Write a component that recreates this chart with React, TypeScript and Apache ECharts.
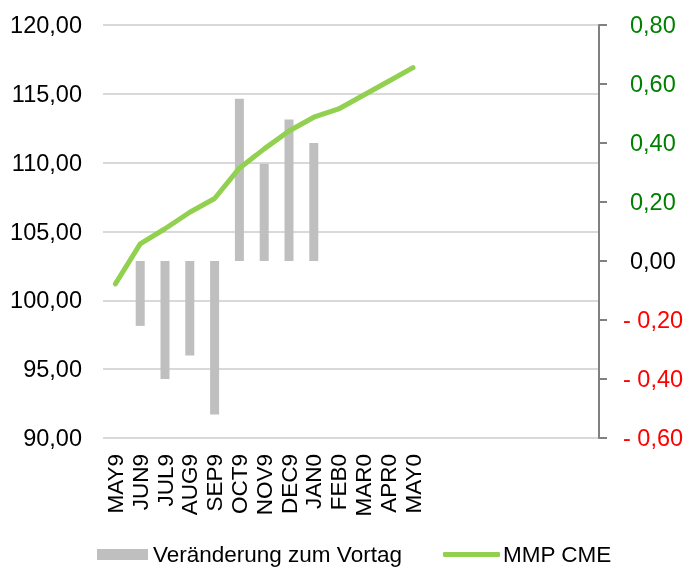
import React, { useEffect, useRef } from "react";
import * as echarts from "echarts";

const categories = ["MAY9", "JUN9", "JUL9", "AUG9", "SEP9", "OCT9", "NOV9", "DEC9", "JAN0", "FEB0", "MAR0", "APR0", "MAY0", "", "", "", "", "", "", ""];
const changeValues: (number | null)[] = [null, -0.22, -0.40, -0.32, -0.52, 0.55, 0.33, 0.48, 0.40, null, null, null, null, null, null, null, null, null, null, null];
const mmpValues: (number | null)[] = [101.2, 104.1, 105.2, 106.4, 107.4, 109.6, 111.0, 112.3, 113.3, 113.9, 114.9, 115.9, 116.9, null, null, null, null, null, null, null];
const barName = "Veränderung zum Vortag";
const lineName = "MMP CME";

const fmtLeft = (v: number) => v.toFixed(2).replace(".", ",");
const fmtRight = (v: number) => {
  const r = Math.round(v * 100) / 100;
  if (r < 0) return "{n|- " + Math.abs(r).toFixed(2).replace(".", ",") + "}";
  if (r === 0) return "{z|0,00}";
  return "{p|" + r.toFixed(2).replace(".", ",") + "}";
};

export default function App() {
  const ref = useRef<HTMLDivElement>(null);
  useEffect(() => {
    if (!ref.current) return;
    const chart = echarts.init(ref.current, undefined, { renderer: "svg" });
    const font = "Liberation Sans, Arial, sans-serif";
    const fs = 23.5;
    chart.setOption({
      animation: false,
      textStyle: { fontFamily: font },
      grid: { left: 103, right: 92, top: 25, bottom: 130 },
      legend: [
        {
          data: [{ name: barName, icon: "rect" }],
          left: 97,
          top: 543,
          padding: 0,
          itemWidth: 51,
          itemHeight: 11,
          itemGap: 5,
          textStyle: { fontSize: 22.5, color: "#000", fontFamily: font },
        },
        {
          data: [{ name: lineName, icon: "roundRect" }],
          left: 443,
          top: 543,
          padding: 0,
          itemWidth: 57,
          itemHeight: 5,
          textStyle: { fontSize: 22.5, color: "#000", fontFamily: font, padding: [0, 0, 0, -2] },
        },
      ],
      xAxis: {
        type: "category",
        data: categories,
        boundaryGap: true,
        axisLine: { show: false },
        axisTick: { show: false },
        axisLabel: { rotate: 90, interval: 0, fontSize: 22.5, color: "#000", margin: 16, fontFamily: font },
      },
      yAxis: [
        {
          type: "value",
          min: 90,
          max: 120,
          interval: 5,
          position: "left",
          axisLine: { show: false },
          axisTick: { show: false },
          axisLabel: { formatter: fmtLeft, fontSize: fs, color: "#000", margin: 21, fontFamily: font },
          splitLine: { show: true, lineStyle: { color: "#D9D9D9", width: 2 } },
        },
        {
          type: "value",
          min: -0.6,
          max: 0.8,
          interval: 0.2,
          position: "right",
          axisLine: { show: true, lineStyle: { color: "#808080", width: 2 } },
          axisTick: { show: true, length: 8, lineStyle: { color: "#808080", width: 2 } },
          splitLine: { show: false },
          axisLabel: {
            formatter: fmtRight,
            align: "left",
            margin: 24,
            fontFamily: font,
            rich: {
              p: { fontSize: fs, color: "#008000", padding: [0, 0, 0, 7], fontFamily: font },
              z: { fontSize: fs, color: "#000000", padding: [0, 0, 0, 7], fontFamily: font },
              n: { fontSize: fs, color: "#FF0000", fontFamily: font },
            },
          },
        },
      ],
      series: [
        {
          name: barName,
          type: "bar",
          yAxisIndex: 1,
          data: changeValues,
          barWidth: 9,
          itemStyle: { color: "#BFBFBF" },
        },
        {
          name: lineName,
          type: "line",
          yAxisIndex: 0,
          data: mmpValues,
          symbol: "none",
          itemStyle: { color: "#92D050" },
          lineStyle: { color: "#92D050", width: 5, cap: "round", join: "round" },
        },
      ],
    });
    return () => chart.dispose();
  }, []);
  return <div ref={ref} style={{ position: "fixed", left: 0, top: 0, width: 691, height: 568 }} />;
}
